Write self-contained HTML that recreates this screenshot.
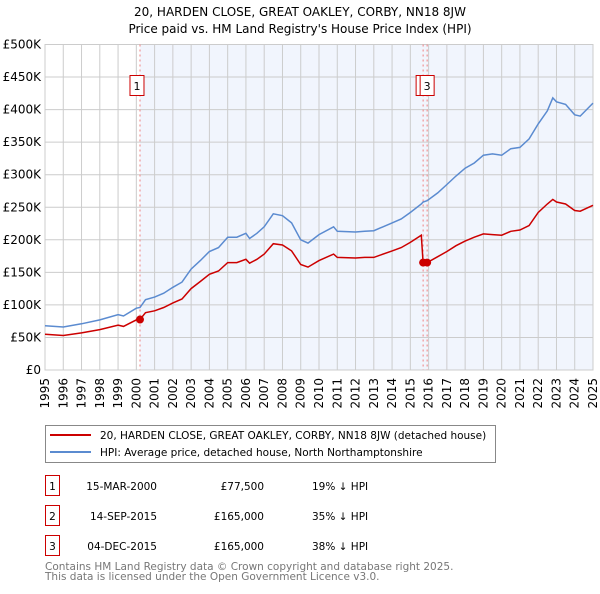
<!DOCTYPE html>
<html><head><meta charset="utf-8"><style>
body{margin:0;background:#fff;font-family:"DejaVu Sans","Liberation Sans",sans-serif;}
svg text{font-family:"DejaVu Sans","Liberation Sans",sans-serif;}
</style></head><body>
<svg id="chart" width="600" height="590" xmlns="http://www.w3.org/2000/svg">
<text x="300" y="16" font-size="12" text-anchor="middle">20, HARDEN CLOSE, GREAT OAKLEY, CORBY, NN18 8JW</text>
<text x="300" y="33" font-size="12" text-anchor="middle">Price paid vs. HM Land Registry's House Price Index (HPI)</text>
<g id="plot"></g>
<g>
<rect x="45.5" y="425.5" width="450" height="37" fill="#fff" stroke="#888"/>
<line x1="50" y1="435" x2="91" y2="435" stroke="#cc0000" stroke-width="2"/>
<text x="100" y="439" font-size="10.5">20, HARDEN CLOSE, GREAT OAKLEY, CORBY, NN18 8JW (detached house)</text>
<line x1="50" y1="452" x2="91" y2="452" stroke="#5b8bd0" stroke-width="2"/>
<text x="100" y="456" font-size="10.5">HPI: Average price, detached house, North Northamptonshire</text>
</g>
<g font-size="10.5">
<rect x="45.5" y="475.5" width="14" height="20" fill="none" stroke="#cc0000"/><text x="52.5" y="490" text-anchor="middle">1</text>
<text x="157" y="490" text-anchor="end">15-MAR-2000</text><text x="264" y="490" text-anchor="end">£77,500</text><text x="312" y="490">19% ↓ HPI</text>
<rect x="45.5" y="505.5" width="14" height="20" fill="none" stroke="#cc0000"/><text x="52.5" y="520" text-anchor="middle">2</text>
<text x="157" y="520" text-anchor="end">14-SEP-2015</text><text x="264" y="520" text-anchor="end">£165,000</text><text x="312" y="520">35% ↓ HPI</text>
<rect x="45.5" y="535.5" width="14" height="20" fill="none" stroke="#cc0000"/><text x="52.5" y="550" text-anchor="middle">3</text>
<text x="157" y="550" text-anchor="end">04-DEC-2015</text><text x="264" y="550" text-anchor="end">£165,000</text><text x="312" y="550">38% ↓ HPI</text>
</g>
<text x="45" y="570" font-size="10.5" fill="#777">Contains HM Land Registry data © Crown copyright and database right 2025.</text>
<text x="45" y="580" font-size="10.5" fill="#777">This data is licensed under the Open Government Licence v3.0.</text>
</svg>
<script>
const years=[1995,1996,1997,1998,1999,1999.3,2000,2000.2,2000.5,2001,2001.5,2002,2002.5,2003,2003.5,2004,2004.5,2005,2005.5,2006,2006.2,2006.6,2007,2007.5,2008,2008.5,2009,2009.4,2010,2010.8,2011,2012,2012.5,2013,2014,2014.5,2015,2015.6,2015.7,2015.92,2016.5,2017,2017.5,2018,2018.5,2019,2019.5,2020,2020.5,2021,2021.5,2022,2022.5,2022.8,2023,2023.5,2024,2024.3,2025];
const hpi=[68,66,71,77,85,83,95,96,108,112,118,127,135,155,168,182,188,204,204,210,202,210,220,240,237,226,200,195,208,220,213,212,213,214,226,232,242,255,258,260,272,285,298,310,318,330,332,330,340,342,355,378,398,418,412,408,392,390,410];
const paid=[55,53,57,62,69,67,77,77.5,88,91,96,103,109,125,136,147,152,165,165,170,164,170,178,194,192,183,162,158,168,178,173,172,173,173,183,188,196,207,165,165,174,182,191,198,204,209,208,207,213,215,222,242,255,262,258,255,245,244,253];
const saleYears=[2000.2,2015.7,2015.92];
const saleValues=[77.5,165,165];
const saleLabels=["1","2","3"];
const yTicks=[0,50,100,150,200,250,300,350,400,450,500];
const yTickLabels=["£0","£50K","£100K","£150K","£200K","£250K","£300K","£350K","£400K","£450K","£500K"];
const xTicks=[1995,1996,1997,1998,1999,2000,2001,2002,2003,2004,2005,2006,2007,2008,2009,2010,2011,2012,2013,2014,2015,2016,2017,2018,2019,2020,2021,2022,2023,2024,2025];

const NS="http://www.w3.org/2000/svg";
const L=45,R=593,T=44.5,B=370;
const X=y=>L+(y-1995)/30*(R-L);
const Y=v=>B-v/500*(B-T);
const g=document.getElementById('plot');
function mk(t,a,p){const e=document.createElementNS(NS,t);for(const k in a)e.setAttribute(k,a[k]);(p||g).appendChild(e);return e;}
let sh=mk('rect',{x:X(saleYears[0]),y:T,width:R-X(saleYears[0]),height:B-T,fill:'#eef3fc',opacity:0.8});


yTicks.forEach((v,i)=>{
 let l=mk('line',{x1:L,x2:R,y1:Y(v),y2:Y(v),stroke:'#ccc'});
 
 
 let t=mk('text',{x:L-4,y:Y(v)+4,'font-size':12,'text-anchor':'end'});
 t.textContent=yTickLabels[i];
 
 
});
xTicks.forEach(y=>{
 let l=mk('line',{x1:X(y),x2:X(y),y1:T,y2:B,stroke:'#ccc'});
 
 
 let t=mk('text',{x:0,y:0,'font-size':12,'text-anchor':'end',transform:`translate(${X(y)+4},${B+8}) rotate(-90)`});
 t.textContent=y;
 
 
});
mk('rect',{x:L,y:T,width:R-L,height:B-T,fill:'none',stroke:'#ccc'});
saleYears.forEach((y,i)=>{
 let l=mk('line',{x1:X(y),x2:X(y),y1:T,y2:B,stroke:'#f08080','stroke-dasharray':'2,3'});
 
 
});
const pts=a=>years.map((y,i)=>X(y).toFixed(1)+','+Y(a[i]).toFixed(1)).join(' ');
let hl=mk('polyline',{points:pts(hpi),fill:'none',stroke:'#5b8bd0','stroke-width':1.5});


let pl=mk('polyline',{points:pts(paid),fill:'none',stroke:'#cc0000','stroke-width':1.5});


saleYears.forEach((y,i)=>{
 let c=mk('circle',{cx:X(y),cy:Y(saleValues[i]),r:4,fill:'#cc0000'});
 
 
 const bx=X(y)-(i==0?10:7),w=14;
 let r=mk('rect',{x:bx,y:75.5,width:w,height:20,fill:'#fff',stroke:'#cc0000'});
 
 
 let t=mk('text',{x:bx+w/2,y:90,'font-size':11,'text-anchor':'middle'});
 t.textContent=saleLabels[i];
 
 
});
</script>
</body></html>
